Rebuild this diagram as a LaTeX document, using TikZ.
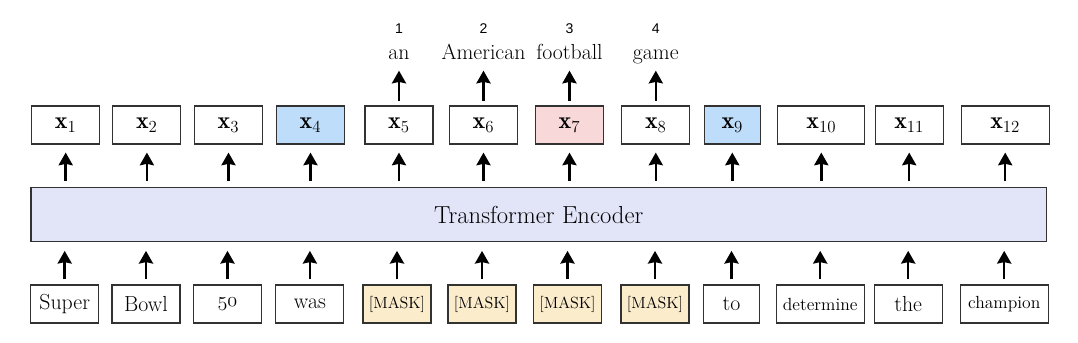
\documentclass[tikz,border=0pt]{standalone}
\usepackage{amsmath}
\usepackage{fontspec}
\newfontfamily\rankfont{Liberation Sans}
\usetikzlibrary{arrows.meta, positioning}
\definecolor{encfill}{RGB}{226,228,248}
\definecolor{maskfill}{RGB}{251,236,204}
\definecolor{predfill}{RGB}{190,221,250}
\definecolor{goldfill}{RGB}{248,216,216}
\definecolor{edge}{RGB}{50,50,50}

\begin{document}
\begin{tikzpicture}[x=0.025cm, y=-0.025cm, >={Stealth[length=9pt, width=10pt, inset=1pt]},
  tok/.style={draw=edge, line width=0.8pt, minimum height=0.95cm, minimum width=1.7cm, inner sep=0pt, fill=white},
  emb/.style={tok, font=\fontsize{17}{17}\selectfont},
  word/.style={tok, font=\fontsize{15.5}{16}\selectfont},
  small/.style={word, font=\fontsize{12.5}{13}\selectfont},
  maskbox/.style={word, fill=maskfill, font=\fontsize{11.5}{12}\selectfont},
  outword/.style={inner sep=0pt, font=\fontsize{15.5}{16}\selectfont},
  rank/.style={inner sep=0pt, font=\rankfont\fontsize{10}{10}\selectfont},
  up/.style={->, line width=1.8pt}]
\useasboundingbox (0,0) rectangle (1078,342);
% encoder block
\node[draw=edge, line width=0.8pt, fill=encfill, minimum width=25.38cm, minimum height=1.34cm,
  font=\fontsize{17.5}{18}\selectfont] (enc) at (538.7,214.5) {Transformer Encoder};
% output vectors
\node[emb] (x1) at (65.7,125) {$\mathbf{x}_1$};
\node[emb] (x2) at (146.9,125) {$\mathbf{x}_2$};
\node[emb] (x3) at (228.5,125) {$\mathbf{x}_3$};
\node[emb, fill=predfill] (x4) at (310.5,125) {$\mathbf{x}_4$};
\node[emb] (x5) at (399,125) {$\mathbf{x}_5$};
\node[emb] (x6) at (483.5,125) {$\mathbf{x}_6$};
\node[emb, fill=goldfill] (x7) at (569.5,125) {$\mathbf{x}_7$};
\node[emb] (x8) at (655.8,125) {$\mathbf{x}_8$};
\node[emb, fill=predfill, minimum width=1.4cm] (x9) at (732.3,125) {$\mathbf{x}_9$};
\node[emb, minimum width=2.18cm] (x10) at (821.3,125) {$\mathbf{x}_{10}$};
\node[emb] (x11) at (909.2,125) {$\mathbf{x}_{11}$};
\node[emb, minimum width=2.2cm] (x12) at (1005.2,125) {$\mathbf{x}_{12}$};
% input tokens
\node[word] (w1) at (64.7,304) {Super};
\node[word] (w2) at (146,304) {Bowl};
\node[word] (w3) at (227.5,304) {{\usefont{OML}{cmm}{m}{it}50}};
\node[word] (w4) at (309.9,304) {was};
\node[maskbox] (w5) at (397,304) {[MASK]};
\node[maskbox] (w6) at (482,304) {[MASK]};
\node[maskbox] (w7) at (567.5,304) {[MASK]};
\node[maskbox] (w8) at (655,304) {[MASK]};
\node[word, minimum width=1.4cm] (w9) at (731.5,304) {to};
\node[small, minimum width=2.2cm] (w10) at (820.2,304) {determine};
\node[word] (w11) at (908.2,304) {the};
\node[small, minimum width=2.2cm] (w12) at (1004.2,304) {champion};
% predicted span
\node[outword, anchor=base] (o5) at (399,59) {an};
\node[outword, anchor=base] (o6) at (483.5,59) {American};
\node[outword, anchor=base] (o7) at (569.5,59) {football};
\node[outword, anchor=base] (o8) at (655.8,59) {game};
\node[rank, anchor=base] (r5) at (399,33) {1};
\node[rank, anchor=base] (r6) at (483.5,33) {2};
\node[rank, anchor=base] (r7) at (569.5,33) {3};
\node[rank, anchor=base] (r8) at (655.8,33) {4};
% arrows
\foreach \i in {1,...,12} {
  \draw[up, shorten <=3.6pt, shorten >=6.4pt] (w\i) -- (enc.south -| w\i);
  \draw[up, shorten <=4.2pt, shorten >=5.7pt] (enc.north -| x\i) -- (x\i);
}
\foreach \i in {5,...,8}
  \draw[up, shorten <=3pt, shorten >=8.3pt] (x\i) -- (o\i.base);
\end{tikzpicture}
\end{document}
